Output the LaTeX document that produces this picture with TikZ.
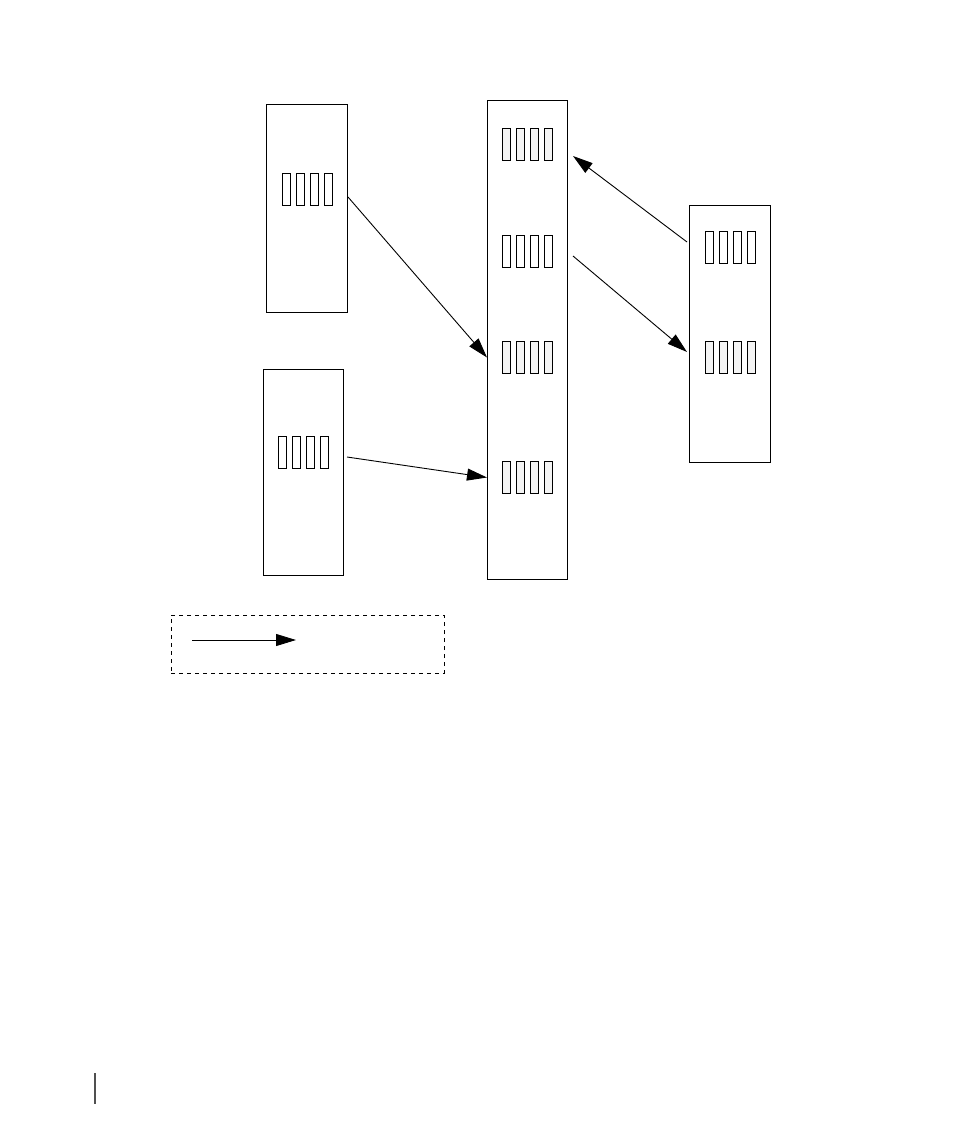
\documentclass[tikz,border=0pt]{standalone}
\usetikzlibrary{positioning,arrows.meta,calc}
\definecolor{SlotGray}{RGB}{244,244,244}
\definecolor{MarkGray}{RGB}{80,80,80}

% one row of four slots, named #1-1 .. #1-4
\newcommand{\slotrow}[4]{%
  \foreach \k in {1,...,4}
    \node[slot, fill=#4] (#1-\k) at ({#2+14*(\k-1)},#3) {};
}

\begin{document}
\begin{tikzpicture}[x=1pt,y=-1pt,
    rack/.style={draw, line width=1pt, inner sep=0pt, outer sep=0pt},
    slot/.style={draw, line width=1pt, inner sep=0pt, outer sep=0pt,
                 minimum width=8pt, minimum height=32pt},
    link/.style={-{Triangle[length=20pt,width=12pt]}, line width=0.9pt}]
  \useasboundingbox (0,0) rectangle (954,1145);

  % racks
  \node[rack, minimum width=81pt, minimum height=207pt] (ltbox) at (306.5,208.5) {};
  \node[rack, minimum width=80pt, minimum height=206pt] (lbbox) at (303,472) {};
  \node[rack, minimum width=80pt, minimum height=478pt] (mbox) at (527,340) {};
  \node[rack, minimum width=81pt, minimum height=257pt] (rbox) at (729.5,333.5) {};

  % slots
  \slotrow{lt}{286}{189}{white}
  \slotrow{lb}{282}{452.5}{white}
  \slotrow{m1}{506}{144.5}{SlotGray}
  \slotrow{m2}{506}{251}{white}
  \slotrow{m3}{506}{357.5}{SlotGray}
  \slotrow{m4}{506}{477.5}{SlotGray}
  \slotrow{r1}{709.5}{247.5}{white}
  \slotrow{r2}{709.5}{357.5}{SlotGray}

  % transfers
  \draw[link] ($(ltbox.east)+(1,-11.5)$) -- (mbox.west |- m3-1);
  \draw[link] ($(lbbox.east)+(4,-15)$) -- (mbox.west |- m4-1);
  \draw[link] ($(rbox.west)+(-2,-91.5)$) -- ($(m1-4.east)+(21,11.5)$);
  \draw[link] ($(m2-4.east)+(21,5)$) -- ($(rbox.west)+(-2,18.5)$);

  % legend
  \node[draw, dashed, dash pattern=on 4pt off 4pt, line width=0.9pt,
        minimum width=273pt, minimum height=58pt, inner sep=0pt] (legend) at (307.5,644) {};
  \coordinate (legtail) at (192,640);
  \coordinate (leghead) at (296,640);
  \draw[link] (legtail) -- (leghead);

  % page mark
  \draw[MarkGray, line width=1.3pt] (95,1073) -- (95,1104);
\end{tikzpicture}
\end{document}
